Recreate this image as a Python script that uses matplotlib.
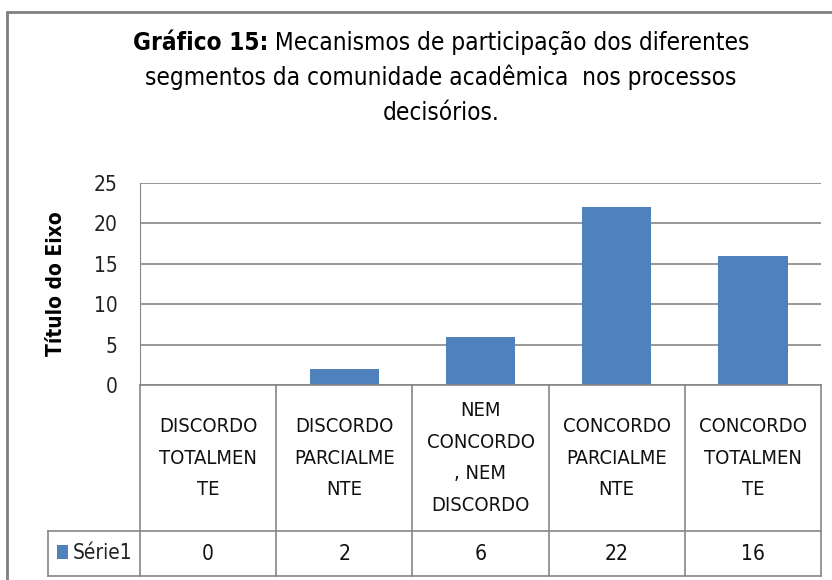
import matplotlib
matplotlib.use('Agg')
import matplotlib.pyplot as plt
from matplotlib.patches import Rectangle

# data
categories = ['DISCORDO\nTOTALMEN\nTE', 'DISCORDO\nPARCIALME\nNTE', 'NEM\nCONCORDO\n, NEM\nDISCORDO',
              'CONCORDO\nPARCIALME\nNTE', 'CONCORDO\nTOTALMEN\nTE']
values = [0, 2, 6, 22, 16]
series_name = 'Série1'
title_bold = 'Gráfico 15:'
title_rest = ' Mecanismos de participação dos diferentes'
title_lines = ['segmentos da comunidade acadêmica  nos processos', 'decisórios.']
ylabel = 'Título do Eixo'

plt.rcParams['font.family'] = ['DejaVu Sans']
plt.rcParams['font.stretch'] = 'condensed'

W, H = 832, 580
fig = plt.figure(figsize=(W / 100, H / 100), dpi=100)
blue = '#4F81BD'
grid = '#868686'


def fx(px):
    return px / W


def fy(py):
    return 1 - py / H


# outer chart frame
fig.add_artist(Rectangle((fx(7), fy(590)), fx(900), (590 - 12) / H, transform=fig.transFigure,
                         fill=False, edgecolor='#7f7f7f', linewidth=2))

left, right, top, bottom = 140, 821, 183, 385
ax = fig.add_axes([fx(left), fy(bottom), fx(right - left), (bottom - top) / H])
x = range(len(values))
ax.bar(x, values, width=0.51, color=blue, zorder=3)
ax.set_xlim(-0.5, len(values) - 0.5)
ax.set_ylim(0, 25)
ax.set_yticks([0, 5, 10, 15, 20, 25])
ax.yaxis.grid(True, color=grid, linewidth=1.2)
ax.set_xticks([])
ax.tick_params(axis='y', length=0, pad=16, labelsize=15, labelcolor='#222222')
for s in ['top', 'right', 'bottom']:
    ax.spines[s].set_visible(False)
ax.spines['left'].set_color(grid)
ax.set_ylabel(ylabel, fontsize=15, fontweight='bold', labelpad=20)

# data table under the axis
row1, row2 = 531, 576
col_w = (right - left) / len(values)
cols = [left + i * col_w for i in range(len(values) + 1)]
lw = 1.2
fig.add_artist(plt.Line2D([fx(left), fx(right)], [fy(bottom), fy(bottom)], color=grid, lw=lw))
fig.add_artist(plt.Line2D([fx(48), fx(right)], [fy(row1), fy(row1)], color=grid, lw=lw))
fig.add_artist(plt.Line2D([fx(48), fx(right)], [fy(row2), fy(row2)], color=grid, lw=lw))
fig.add_artist(plt.Line2D([fx(48), fx(48)], [fy(row1), fy(row2)], color=grid, lw=lw))
for c in cols:
    fig.add_artist(plt.Line2D([fx(c), fx(c)], [fy(bottom), fy(row2)], color=grid, lw=lw))

for i, (cat, v) in enumerate(zip(categories, values)):
    cx = fx(cols[i] + col_w / 2)
    fig.text(cx, fy((bottom + row1) / 2), cat, ha='center', va='center', fontsize=14.5,
             linespacing=1.85, color='#111111')
    fig.text(cx, fy((row1 + row2) / 2), str(v), ha='center', va='center', fontsize=15, color='#111111')

fig.add_artist(Rectangle((fx(57), fy(559)), fx(11), 14 / H, transform=fig.transFigure,
                         facecolor=blue, edgecolor='none'))
fig.text(fx(73), fy(553), series_name, ha='left', va='center', fontsize=15, color='#222222')

# title, first word bold
cx = 441
fs = 17.5
fig.canvas.draw()
r = fig.canvas.get_renderer()
tb = fig.text(0, fy(50), title_bold, fontsize=fs, fontweight='bold', va='baseline')
tr = fig.text(0, fy(50), title_rest, fontsize=fs, va='baseline')
wb = tb.get_window_extent(r).width
wr = tr.get_window_extent(r).width
x0 = cx - (wb + wr) / 2
tb.set_x(fx(x0))
tr.set_x(fx(x0 + wb))
fig.text(fx(cx), fy(85), title_lines[0], fontsize=fs, ha='center', va='baseline')
fig.text(fx(cx), fy(120), title_lines[1], fontsize=fs, ha='center', va='baseline')

fig.savefig('out.png', dpi=100)
